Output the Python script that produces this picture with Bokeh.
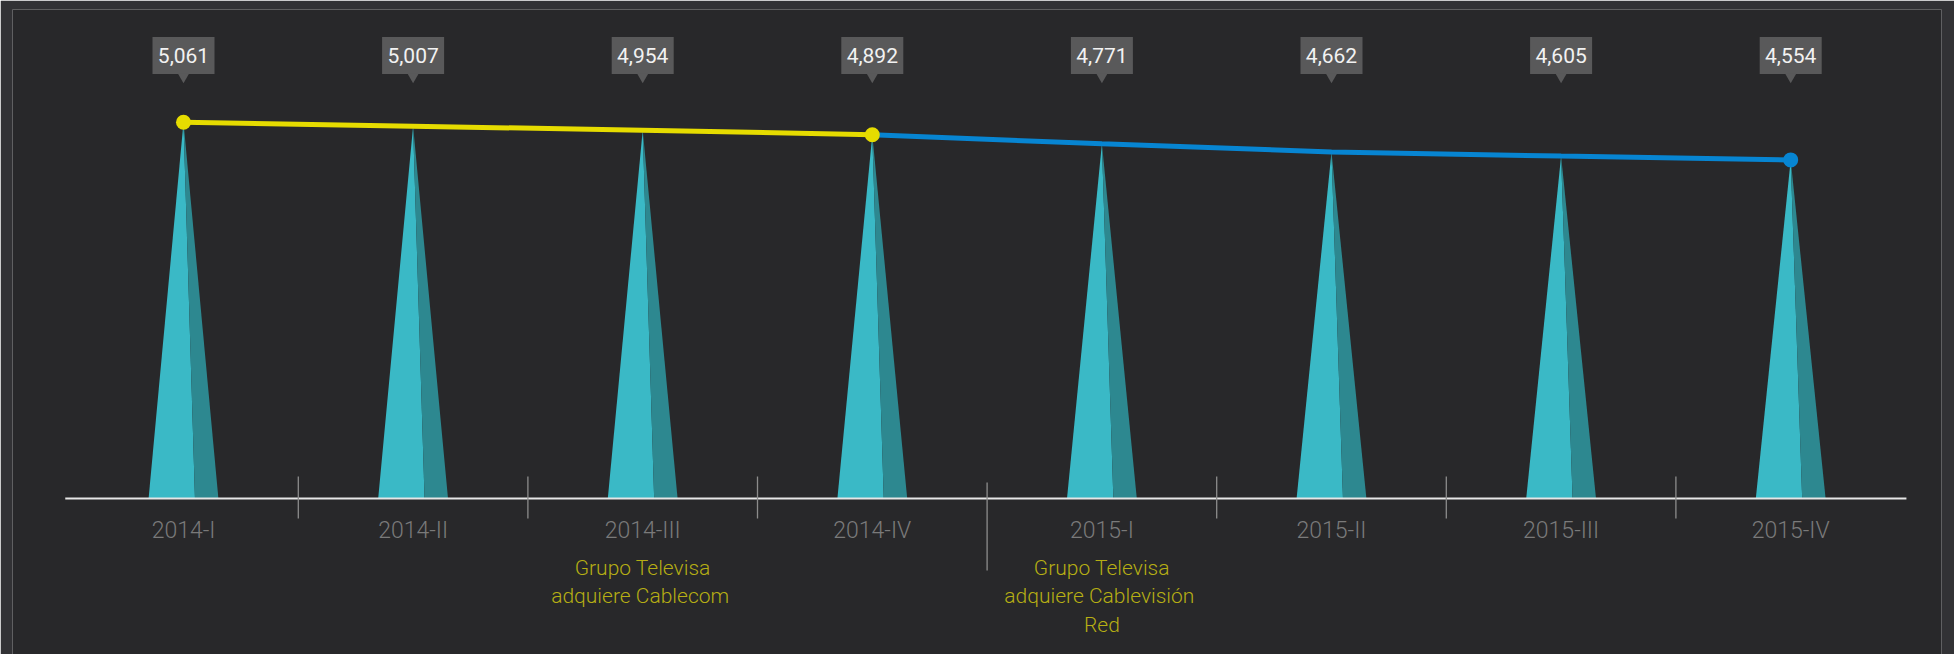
from bokeh.plotting import figure
from bokeh.models import Range1d, ColumnDataSource
from bokeh.core.properties import value
from bokeh.embed import file_html
from bokeh.resources import INLINE

# ---------------- data ----------------
categories = ["2014-I", "2014-II", "2014-III", "2014-IV",
              "2015-I", "2015-II", "2015-III", "2015-IV"]
subscribers = [5061, 5007, 4954, 4892, 4771, 4662, 4605, 4554]
value_labels = ["5,061", "5,007", "4,954", "4,892",
                "4,771", "4,662", "4,605", "4,554"]
events = ["", "",
          "Grupo Televisa\nadquiere  Cablecom", "",
          "Grupo Televisa\nadquiere  Cablevisión\nRed", "", "", ""]

# ---------------- layout / style ----------------
W, H = 1954, 654
PX_PER_UNIT = 0.07435          # vertical scale (pixels per subscriber unit)
BASE_Y = 498                   # baseline, px from figure top
STEP = 229.6                   # px per category
FIRST_X = 183                  # px of first category centre from figure left
FRAME_L, FRAME_R, FRAME_T = 12, 1941, 9

OUTER = "#323235"
PANEL = "#28282a"
YELLOW = "#e6dc00"
BLUE = "#0785d2"
SPIKE_L = "#3ab9c6"
SPIKE_R = "#2d8890"
BOX = "#59595a"
EVENT = "#b6ae14"
LABEL = "#7a7a7a"


def up(px):
    return px / PX_PER_UNIT


idx = list(range(len(categories)))

p = figure(width=W, height=H, output_backend="svg", toolbar_location=None,
           x_range=Range1d((FRAME_L - FIRST_X) / STEP, (FRAME_R - FIRST_X) / STEP),
           y_range=Range1d(-up(H - BASE_Y), up(BASE_Y - FRAME_T)),
           min_border_left=FRAME_L, min_border_right=W - FRAME_R,
           min_border_top=FRAME_T, min_border_bottom=0)
p.axis.visible = False
p.grid.visible = False
p.outline_line_color = None
p.background_fill_color = PANEL
p.border_fill_color = OUTER

# ---------------- spikes ----------------
half, split = 0.152, 0.05
lxs, lys, rxs, rys = [], [], [], []
for i, v in zip(idx, subscribers):
    lxs.append([i - half, i + split, i])
    lys.append([0, 0, v])
    rxs.append([i + split, i + half, i])
    rys.append([0, 0, v])
p.patches(lxs, lys, fill_color=SPIKE_L, line_color=None)
p.patches(rxs, rys, fill_color=SPIKE_R, line_color=None)

# ---------------- axis line and separators ----------------
p.segment(x0=[-0.515], y0=[0], x1=[len(categories) - 0.496], y1=[0],
          line_color="#e6e6e6", line_width=2)
sx, sy0, sy1 = [], [], []
for i in range(len(categories) - 1):
    new_year = categories[i][:4] != categories[i + 1][:4]
    sx.append(i + 0.5)
    sy0.append(up(16) if new_year else up(22))
    sy1.append(-up(72) if new_year else -up(20))
p.segment(x0=sx, y0=sy0, x1=sx, y1=sy1, line_color="#8c8c8c", line_width=1.3)

# ---------------- line ----------------
last_2014 = max(i for i, c in enumerate(categories) if c.startswith("2014"))
seg1 = ColumnDataSource(dict(x=idx[:last_2014 + 1], y=subscribers[:last_2014 + 1]))
seg2 = ColumnDataSource(dict(x=idx[last_2014:], y=subscribers[last_2014:]))
p.line("x", "y", source=seg1, line_color=YELLOW, line_width=5)
p.line("x", "y", source=seg2, line_color=BLUE, line_width=5)
p.scatter([idx[0], idx[last_2014]], [subscribers[0], subscribers[last_2014]],
          size=15, fill_color=YELLOW, line_color=None)
p.scatter([idx[-1]], [subscribers[-1]], size=15, fill_color=BLUE, line_color=None)

# ---------------- value boxes ----------------
src = ColumnDataSource(dict(x=idx, lab=value_labels, cat=categories, ev=events))
box_y = up(BASE_Y - 55)
p.rect(x="x", y=box_y, width=62, height=37, width_units="screen",
       height_units="screen", source=src, fill_color=BOX, line_color=None)
p.scatter(x="x", y=up(BASE_Y - 76.5), marker="inverted_triangle", size=11,
          source=src, fill_color=BOX, line_color=None)
p.text(x="x", y=box_y, text="lab", source=src, text_align="center",
       text_baseline="middle", text_color="#f2f2f2", text_font_size="21px",
       text_font=value("Roboto"))

# ---------------- category labels and events ----------------
p.text(x="x", y=-up(32), text="cat", source=src, text_align="center",
       text_baseline="middle", text_color=LABEL, text_font_size="23px",
       text_font=value("Roboto Light"))
p.text(x="x", y=-up(57), text="ev", source=src, text_align="center",
       text_baseline="top", text_color=EVENT, text_font_size="21px",
       text_line_height=1.2, text_font=value("Roboto Light"))

html = file_html(p, INLINE)
html = html.replace("<body>", '<body style="background-color:%s;">' % OUTER, 1)
open("out.html", "w").write(html)
